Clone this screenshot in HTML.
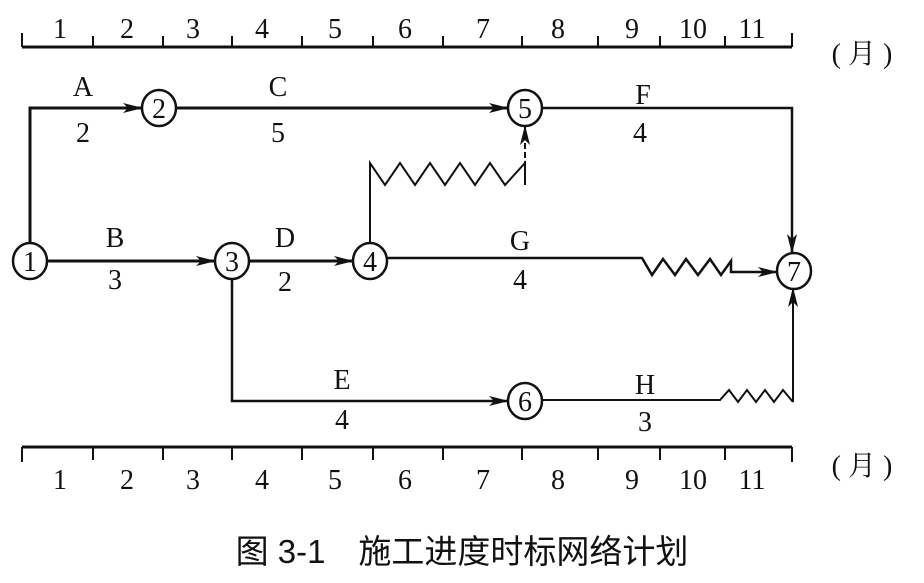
<!DOCTYPE html>
<html><head><meta charset="utf-8"><style>
html,body{margin:0;padding:0;background:#fff;}
svg{display:block}
text{font-family:"Liberation Serif","Noto Serif CJK SC",serif;fill:#111;}
</style></head><body>
<svg width="924" height="583" viewBox="0 0 924 583" xmlns="http://www.w3.org/2000/svg">
<defs>
<marker id="ar" markerWidth="20" markerHeight="10" refX="18" refY="5" orient="auto" markerUnits="userSpaceOnUse">
<path d="M0,0 L20,5 L0,10 L5,5 Z" fill="#111"/>
</marker>
</defs>
<g stroke="#111" fill="none">
<path d="M22,47 H792" stroke-width="3"/>
<path d="M22,47V33 M93,47V36 M163,47V36 M232,47V36 M302,47V36 M373,47V36 M443,47V36 M522,47V36 M598,47V36 M660,47V36 M725,47V36 M792,47V33" stroke-width="2"/>
<path d="M22,447 H792" stroke-width="3"/>
<path d="M22,447V462 M93,447V460 M163,447V460 M232,447V460 M302,447V460 M373,447V460 M443,447V460 M522,447V460 M598,447V460 M660,447V460 M725,447V460 M792,447V462" stroke-width="2"/>

<path d="M30,242 V108 H141" stroke-width="3" marker-end="url(#ar)"/>
<path d="M177,108 H507" stroke-width="3" marker-end="url(#ar)"/>
<path d="M543,108 H792 V252" stroke-width="2.5" marker-end="url(#ar)"/>
<path d="M370,244 V163 L385,185 L400,163 L415,185 L430,163 L445,185 L460,163 L475,185 L490,163 L505,185 L525,163 V185" stroke-width="2"/>
<path d="M525,185 V127" stroke-width="2" stroke-dasharray="6,3" marker-end="url(#ar)"/>
<path d="M48,261 H214" stroke-width="3" marker-end="url(#ar)"/>
<path d="M250,261 H352" stroke-width="3" marker-end="url(#ar)"/>
<path d="M388,258 H642 L652,275 L663,259 L675,275 L686,259 L698,275 L710,259 L721,275 L731,261 V272 H776" stroke-width="2.5" marker-end="url(#ar)"/>
<path d="M232,279 V401 H507" stroke-width="2.5" marker-end="url(#ar)"/>
<path d="M543,400 H720 L729,390 L738,402 L747,390 L756,402 L765,390 L774,402 L783,390 L793,402" stroke-width="2"/>
<path d="M793,402 V289" stroke-width="2" marker-end="url(#ar)"/>

<g stroke-width="2.5" fill="#fff">
<ellipse cx="30" cy="261" rx="17" ry="18"/>
<ellipse cx="159" cy="108" rx="17" ry="18"/>
<ellipse cx="525" cy="108" rx="17" ry="18"/>
<ellipse cx="232" cy="261" rx="17" ry="18"/>
<ellipse cx="370" cy="261" rx="17" ry="18"/>
<ellipse cx="794" cy="271" rx="17" ry="18"/>
<ellipse cx="525" cy="401" rx="17" ry="18"/>
</g>
</g>
<g font-size="28" text-anchor="middle">
<text x="30" y="271">1</text>
<text x="159" y="118">2</text>
<text x="525" y="118">5</text>
<text x="232" y="271">3</text>
<text x="370" y="271">4</text>
<text x="794" y="281">7</text>
<text x="525" y="411">6</text>

<text x="83" y="96">A</text><text x="83" y="142">2</text>
<text x="278" y="96">C</text><text x="278" y="142">5</text>
<text x="643" y="104">F</text><text x="640" y="142">4</text>
<text x="115" y="247">B</text><text x="115" y="289">3</text>
<text x="285" y="247">D</text><text x="285" y="291">2</text>
<text x="520" y="250">G</text><text x="520" y="289">4</text>
<text x="342" y="389">E</text><text x="342" y="429">4</text>
<text x="645" y="394">H</text><text x="645" y="431">3</text>

<text x="60" y="38">1</text><text x="127" y="38">2</text><text x="193" y="38">3</text>
<text x="262" y="38">4</text><text x="335" y="38">5</text><text x="405" y="38">6</text>
<text x="483" y="38">7</text><text x="558" y="38">8</text><text x="632" y="38">9</text>
<text x="693" y="38">10</text><text x="752" y="38">11</text>

<text x="60" y="489">1</text><text x="127" y="489">2</text><text x="193" y="489">3</text>
<text x="262" y="489">4</text><text x="335" y="489">5</text><text x="405" y="489">6</text>
<text x="483" y="489">7</text><text x="558" y="489">8</text><text x="632" y="489">9</text>
<text x="693" y="489">10</text><text x="752" y="489">11</text>

<text x="862" y="63">( 月 )</text>
<text x="862" y="475">( 月 )</text>
</g>
<text x="462" y="563" font-size="33" text-anchor="middle" style='font-family:"Liberation Sans","Noto Sans CJK SC",sans-serif'>图 3-1　施工进度时标网络计划</text>
</svg>
</body></html>
